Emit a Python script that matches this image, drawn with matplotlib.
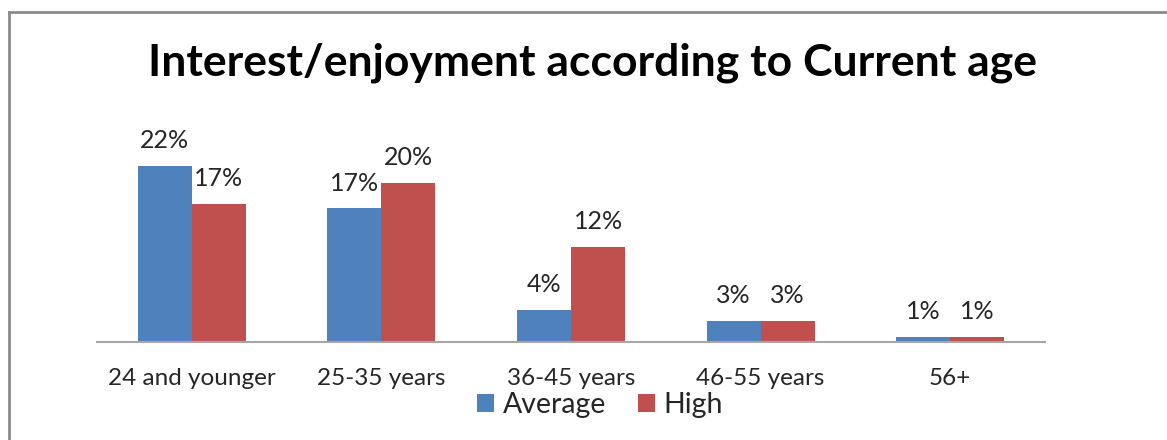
import matplotlib
matplotlib.use('Agg')
import matplotlib.pyplot as plt
from matplotlib.lines import Line2D
import numpy as np

# === DATA ===
categories = ['24 and younger', '25-35 years', '36-45 years', '46-55 years', '56+']
series_names = ['Average', 'High']
average_vals = [22.0, 16.7, 4.0, 2.6, 0.6]
high_vals = [17.3, 19.9, 11.9, 2.6, 0.6]
average_labels = ['22%', '17%', '4%', '3%', '1%']
high_labels = ['17%', '20%', '12%', '3%', '1%']

# === STYLE ===
BLUE = '#4F81BD'
RED = '#C0504D'
TEXT = '#262626'
AXIS = '#A6A6A6'
FONT = ['Lato', 'DejaVu Sans']

plt.rcParams['font.family'] = FONT

W, H = 1167, 440
fig = plt.figure(figsize=(W / 100, H / 100), dpi=100)
fig.patch.set_facecolor('white')

# axes placed in pixel terms
ax_left, ax_right, ax_base, ax_top = 97, 1045, 342, 150
ax = fig.add_axes([ax_left / W, 1 - ax_base / H,
                   (ax_right - ax_left) / W, (ax_base - ax_top) / H])

x = np.arange(len(categories))
width = 0.285
bars_a = ax.bar(x - width / 2, average_vals, width, color=BLUE, label=series_names[0])
bars_h = ax.bar(x + width / 2, high_vals, width, color=RED, label=series_names[1])

for bars, labels in [(bars_a, average_labels), (bars_h, high_labels)]:
    for b, lab in zip(bars, labels):
        ax.annotate(lab, (b.get_x() + b.get_width() / 2, b.get_height()),
                    xytext=(0, 10), textcoords='offset points',
                    ha='center', va='bottom', fontsize=18, color=TEXT)

ax.set_xlim(-0.5, len(categories) - 0.5)
ax.set_ylim(0, 24)
ax.set_xticks(x)
ax.set_xticklabels(categories, fontsize=17.5, color=TEXT)
ax.tick_params(axis='x', length=0, pad=19)
ax.set_yticks([])
for s in ['top', 'right', 'left']:
    ax.spines[s].set_visible(False)
ax.spines['bottom'].set_color(AXIS)
ax.spines['bottom'].set_linewidth(1.5)

# === TITLE ===
fig.text(593 / W, 1 - 63 / H, 'Interest/enjoyment according to Current age',
         ha='center', va='center', fontsize=32, fontweight='bold', color='black')

# === LEGEND ===
fig.legend(loc='center', bbox_to_anchor=(600 / W, 1 - 405 / H), ncol=2,
           frameon=False, fontsize=20.5, handlelength=0.6, handleheight=0.6,
           handletextpad=0.3, columnspacing=1.1, labelcolor=TEXT,
           borderpad=0, borderaxespad=0)

# === BORDER ===
fig.add_artist(Line2D([9 / W, 9 / W], [0, 1 - 12 / H], color='#8C8C8C', lw=2,
                      transform=fig.transFigure))
fig.add_artist(Line2D([9 / W, 1], [1 - 12 / H, 1 - 12 / H], color='#8C8C8C', lw=2,
                      transform=fig.transFigure))

fig.savefig('out.png', dpi=100, facecolor='white')
